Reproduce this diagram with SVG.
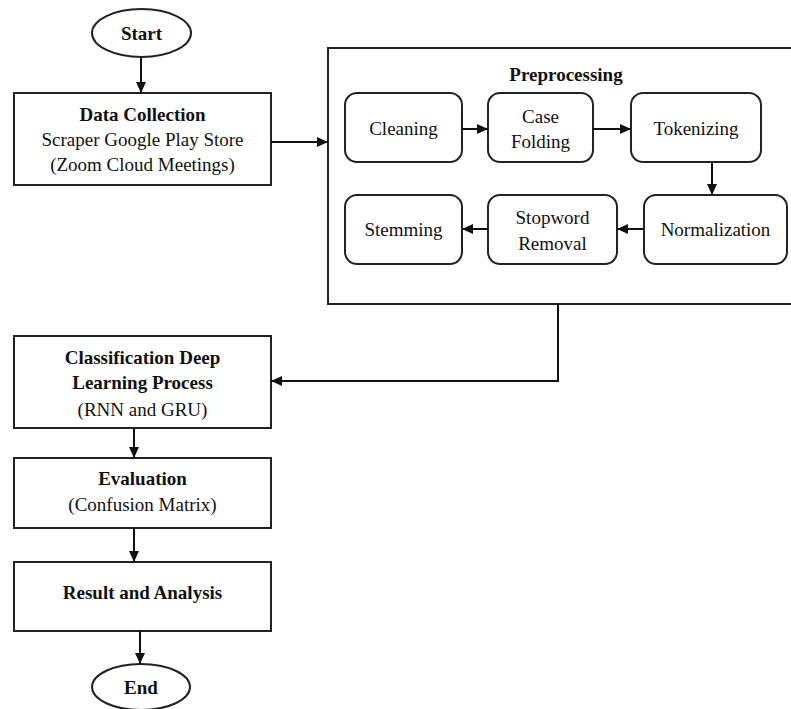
<svg xmlns="http://www.w3.org/2000/svg" width="791" height="709" viewBox="0 0 791 709">
<style>
  .box{fill:#fff;stroke:#222;stroke-width:2}
  .t{font-family:"Liberation Serif","Times New Roman",serif;font-size:19px;fill:#111;text-anchor:middle}
  .b{font-weight:bold}
  .c{fill:none;stroke:#111;stroke-width:2}
</style>
<defs>
  <marker id="ah" markerUnits="userSpaceOnUse" markerWidth="11" markerHeight="10" refX="11" refY="5" orient="auto">
    <path d="M0,0 L11,5 L0,10 z" fill="#111"/>
  </marker>
</defs>
<rect width="791" height="709" fill="#fff"/>

<g id="preprocessing">
  <rect class="box" x="328" y="48" width="480" height="256"/>
  <text class="t b" x="566" y="81">Preprocessing</text>
</g>

<g id="start">
  <ellipse class="box" cx="141.5" cy="33" rx="49.5" ry="24"/>
  <text class="t b" x="141.5" y="39.5">Start</text>
</g>
<g id="data-collection">
  <rect class="box" x="14" y="93" width="257" height="92"/>
  <text class="t b" x="142.5" y="121">Data Collection</text>
  <text class="t" x="142.5" y="146">Scraper Google Play Store</text>
  <text class="t" x="142.5" y="171">(Zoom Cloud Meetings)</text>
</g>

<g id="cleaning">
  <rect class="box" x="345" y="93" width="117" height="69" rx="12"/>
  <text class="t" x="403.5" y="135">Cleaning</text>
</g>
<g id="case-folding">
  <rect class="box" x="488" y="93" width="105" height="69" rx="12"/>
  <text class="t" x="540.5" y="123">Case</text>
  <text class="t" x="540.5" y="148">Folding</text>
</g>
<g id="tokenizing">
  <rect class="box" x="631" y="93" width="130" height="69" rx="12"/>
  <text class="t" x="696" y="135">Tokenizing</text>
</g>
<g id="normalization">
  <rect class="box" x="644" y="195" width="143" height="69" rx="12"/>
  <text class="t" x="715.5" y="236">Normalization</text>
</g>
<g id="stopword-removal">
  <rect class="box" x="488" y="195" width="129" height="69" rx="12"/>
  <text class="t" x="552.5" y="224">Stopword</text>
  <text class="t" x="552.5" y="250">Removal</text>
</g>
<g id="stemming">
  <rect class="box" x="345" y="195" width="117" height="69" rx="12"/>
  <text class="t" x="403.5" y="236">Stemming</text>
</g>

<g id="classification">
  <rect class="box" x="14" y="336" width="257" height="92"/>
  <text class="t b" x="142.5" y="364">Classification Deep</text>
  <text class="t b" x="142.5" y="389">Learning Process</text>
  <text class="t" x="142.5" y="416">(RNN and GRU)</text>
</g>
<g id="evaluation">
  <rect class="box" x="14" y="458" width="257" height="70"/>
  <text class="t b" x="142.5" y="485">Evaluation</text>
  <text class="t" x="142.5" y="511">(Confusion Matrix)</text>
</g>
<g id="result">
  <rect class="box" x="14" y="562" width="257" height="69"/>
  <text class="t b" x="142.5" y="599">Result and Analysis</text>
</g>
<g id="end">
  <ellipse class="box" cx="141" cy="687" rx="49" ry="23"/>
  <text class="t b" x="141" y="693.5">End</text>
</g>

<g id="connectors">
  <path class="c" d="M141,57 L141,93" marker-end="url(#ah)"/>
  <path class="c" d="M271,142 L328,142" marker-end="url(#ah)"/>
  <path class="c" d="M462,129 L488,129" marker-end="url(#ah)"/>
  <path class="c" d="M593,129 L631,129" marker-end="url(#ah)"/>
  <path class="c" d="M712,162 L712,195" marker-end="url(#ah)"/>
  <path class="c" d="M644,229 L617,229" marker-end="url(#ah)"/>
  <path class="c" d="M488,229 L462,229" marker-end="url(#ah)"/>
  <path class="c" d="M558,304 L558,381 L271,381" marker-end="url(#ah)"/>
  <path class="c" d="M134,428 L134,458" marker-end="url(#ah)"/>
  <path class="c" d="M134,528 L134,562" marker-end="url(#ah)"/>
  <path class="c" d="M140,631 L140,664" marker-end="url(#ah)"/>
</g>
</svg>
